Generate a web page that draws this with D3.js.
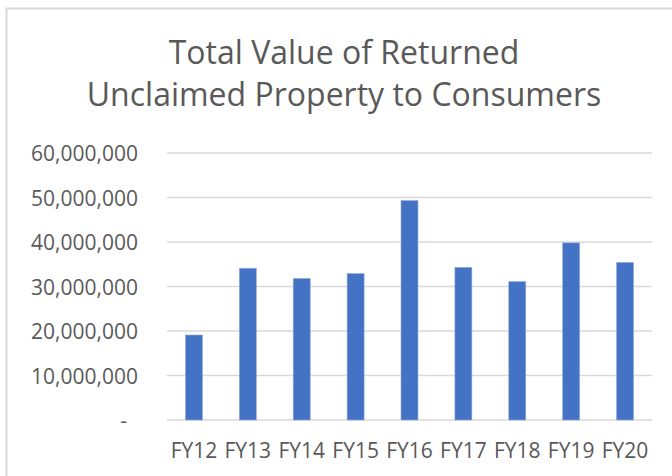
<!DOCTYPE html>
<html>
<head>
  <meta charset="utf-8">
  <style>
    body { margin: 0; background: #fff; }
    text { font-family: "Open Sans", sans-serif; fill: #595959; }
  </style>
</head>
<body>
  <script src="https://cdn.jsdelivr.net/npm/d3@7"></script>
  <script>
    // data
    var years = ["FY12", "FY13", "FY14", "FY15", "FY16", "FY17", "FY18", "FY19", "FY20"];
    var values = [19100000, 34100000, 31800000, 32900000, 49300000, 34300000, 31100000, 39800000, 35400000];
    var yTicks = [0, 10000000, 20000000, 30000000, 40000000, 50000000, 60000000];
    var titleLines = ["Total Value of Returned", "Unclaimed Property to Consumers"];

    var width = 672;
    var height = 476;
    var margin = {top: 153, right: 20, bottom: 56, left: 167};

    var svg = d3.select("body")
                .append("svg")
                .attr("width", width)
                .attr("height", height);

    // chart area border (runs off the right and bottom edge)
    svg.append("rect")
       .attr("x", 6.5)
       .attr("y", 8.5)
       .attr("width", width + 10)
       .attr("height", height + 10)
       .attr("fill", "none")
       .attr("stroke", "#d9d9d9")
       .attr("stroke-width", 2);

    var x = d3.scaleBand()
              .domain(years)
              .range([margin.left, width - margin.right])
              .paddingInner(0.685)
              .paddingOuter(0.3425);

    var y = d3.scaleLinear()
              .domain([0, 60000000])
              .range([height - margin.bottom, margin.top]);

    // gridlines
    svg.append("g")
       .attr("id", "grid")
       .selectAll("line")
       .data(yTicks)
       .enter()
       .append("line")
       .attr("x1", margin.left)
       .attr("x2", width - margin.right)
       .attr("y1", function(d) { return y(d); })
       .attr("y2", function(d) { return y(d); })
       .attr("stroke", "#d9d9d9")
       .attr("stroke-width", 1.5);

    // bars
    svg.selectAll(".bar")
       .data(values)
       .enter()
       .append("rect")
       .attr("class", "bar")
       .attr("x", function(d, i) { return x(years[i]); })
       .attr("y", function(d) { return y(d); })
       .attr("width", x.bandwidth())
       .attr("height", function(d) { return y(0) - y(d); })
       .attr("fill", "#4472c4")
       .attr("stroke", "#8faadc")
       .attr("stroke-width", 0.6);

    // y axis labels (accounting style, zero shows a dash)
    var fmt = d3.format(",");
    var y_axis = d3.axisLeft(y)
                   .tickValues(yTicks)
                   .tickSize(0)
                   .tickPadding(0)
                   .tickFormat(function(d) { return d === 0 ? "-" : fmt(d); });

    var yg = svg.append("g")
       .attr("id", "y_axis")
       .attr("transform", "translate(138,0)")
       .call(y_axis);
    yg.select(".domain").remove();
    yg.selectAll("text")
      .attr("font-size", 21)
      .attr("fill", "#595959")
      .attr("font-family", "Open Sans")
      .attr("dy", "0.36em")
      .attr("x", function(d) { return d === 0 ? -11 : 0; });

    // x axis labels
    var x_axis = d3.axisBottom(x).tickSize(0).tickPadding(0);
    var xg = svg.append("g")
       .attr("id", "x_axis")
       .attr("transform", "translate(0," + y(0) + ")")
       .call(x_axis);
    xg.select(".domain").remove();
    xg.selectAll("text")
      .attr("font-size", 21)
      .attr("fill", "#595959")
      .attr("font-family", "Open Sans")
      .attr("dy", null)
      .attr("y", 37.5);

    // title
    svg.append("g")
       .attr("id", "title")
       .selectAll("text")
       .data(titleLines)
       .enter()
       .append("text")
       .attr("x", 344)
       .attr("y", function(d, i) { return 64 + i * 42; })
       .attr("text-anchor", "middle")
       .attr("font-size", 32)
       .text(function(d) { return d; });
  </script>
</body>
</html>
